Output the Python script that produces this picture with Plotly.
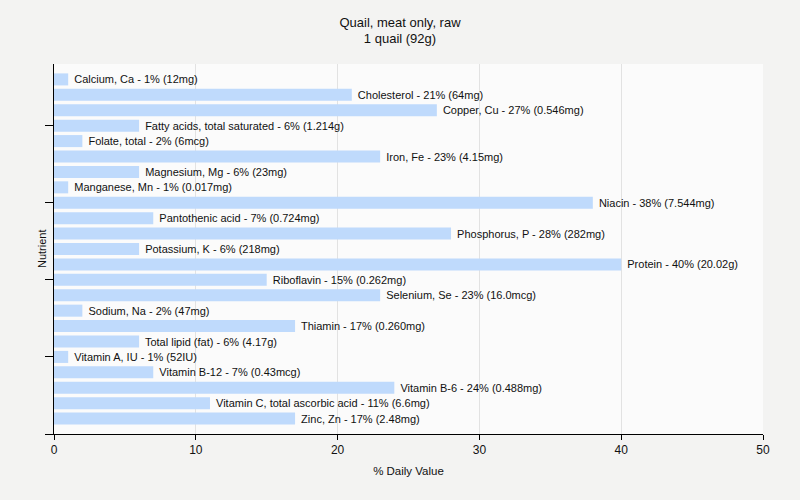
import plotly.graph_objects as go

nutrients = ["Calcium, Ca", "Cholesterol", "Copper, Cu", "Fatty acids, total saturated",
             "Folate, total", "Iron, Fe", "Magnesium, Mg", "Manganese, Mn", "Niacin",
             "Pantothenic acid", "Phosphorus, P", "Potassium, K", "Protein", "Riboflavin",
             "Selenium, Se", "Sodium, Na", "Thiamin", "Total lipid (fat)", "Vitamin A, IU",
             "Vitamin B-12", "Vitamin B-6", "Vitamin C, total ascorbic acid", "Zinc, Zn"]
values = [1, 21, 27, 6, 2, 23, 6, 1, 38, 7, 28, 6, 40, 15, 23, 2, 17, 6, 1, 7, 24, 11, 17]
amounts = ["12mg", "64mg", "0.546mg", "1.214g", "6mcg", "4.15mg", "23mg", "0.017mg", "7.544mg",
           "0.724mg", "282mg", "218mg", "20.02g", "0.262mg", "16.0mcg", "47mg", "0.260mg",
           "4.17g", "52IU", "0.43mcg", "0.488mg", "6.6mg", "2.48mg"]
x_ticks = [0, 10, 20, 30, 40, 50]

labels = [f" {n} - {v}% ({a})" for n, v, a in zip(nutrients, values, amounts)]
ypos = list(range(len(nutrients)))

FONT = "Liberation Sans, Arial, sans-serif"

fig = go.Figure(go.Bar(
    x=values, y=ypos, orientation="h",
    marker=dict(color="#bfdafc", line=dict(width=0)),
    width=0.78,
    text=labels, textposition="outside", cliponaxis=False,
    textfont=dict(family=FONT, size=11, color="#111111"),
    hoverinfo="skip",
))

fig.update_layout(
    width=800, height=500,
    paper_bgcolor="#f3f3f2",
    plot_bgcolor="#fbfbfb",
    margin=dict(l=54, r=37, t=64, b=66, autoexpand=False),
    title=dict(text="Quail, meat only, raw<br>1 quail (92g)", x=0.5, xanchor="center",
               y=0.947, yanchor="top", automargin=False,
               font=dict(family=FONT, size=13, color="#111111")),
    font=dict(family=FONT, size=12, color="#111111"),
    showlegend=False,
    bargap=0.2,
    annotations=[dict(text="Nutrient", xref="paper", yref="paper", x=-12 / 709, y=0.5,
                      textangle=-90, showarrow=False, xanchor="center", yanchor="middle",
                      font=dict(family=FONT, size=11, color="#111111"))],
)

fig.update_xaxes(
    range=[0, 50], tickvals=x_ticks, ticks="outside", ticklen=5, tickcolor="#000000",
    showline=True, linecolor="#000000", linewidth=1, automargin=False,
    showgrid=True, gridcolor="#e2e2e2", gridwidth=1, zeroline=False,
    title=dict(text="% Daily Value", font=dict(size=11.5), standoff=10),
    tickfont=dict(size=12),
)
fig.update_yaxes(
    range=[23, -1], tickvals=[3, 8, 13, 18, 23], ticktext=["", "", "", "", ""],
    ticks="outside", ticklen=8, tickcolor="#000000",
    showline=True, linecolor="#000000", linewidth=1, automargin=False,
    showgrid=False, zeroline=False,
)

fig.write_html("out.html", config={"displayModeBar": False},
               post_script="document.body.style.margin='0';document.body.style.background='#f3f3f2';")
